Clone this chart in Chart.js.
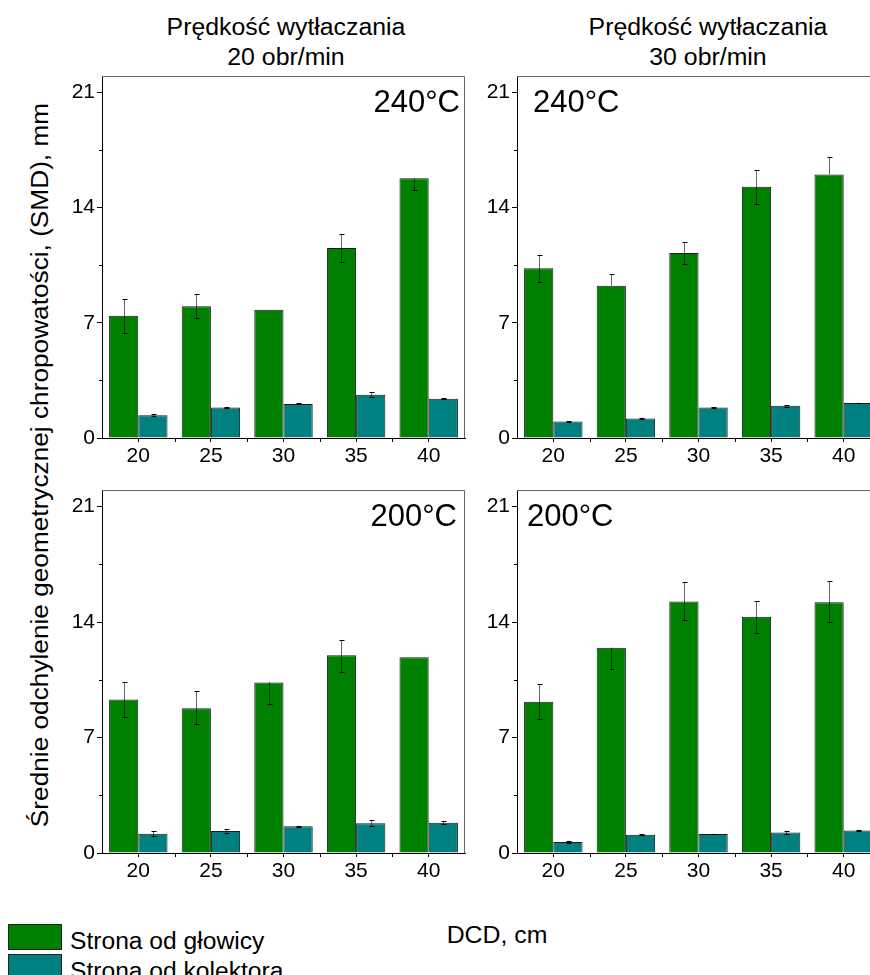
<!doctype html>
<html>
<head>
<meta charset="UTF-8">
<title>SMD - Prędkość wytłaczania</title>
<script src="https://cdn.jsdelivr.net/npm/chart.js@4/dist/chart.umd.min.js"></script>
<style>
html, body { margin:0; padding:0; background:#fff; width:870px; height:975px; overflow:hidden; }
body { position:relative; font-family:'Liberation Sans', Arial, sans-serif; color:#000; }
canvas { position:absolute; }
.txt { position:absolute; font-size:23px; line-height:30px; white-space:nowrap; text-align:center; transform:scaleX(1.08); }
.sw { position:absolute; left:8px; width:54px; height:26px; border:1px solid #222; box-sizing:border-box; }
.lg { position:absolute; left:70px; font-size:23px; line-height:30px; white-space:nowrap; transform:scaleX(1.07); transform-origin:left center; }
</style>
</head>
<body>
<div class="txt" style="left:136px; top:12px; width:300px;">Prędkość wytłaczania<br>20 obr/min</div>
<div class="txt" style="left:558px; top:12px; width:300px;">Prędkość wytłaczania<br>30 obr/min</div>
<div class="txt" style="left:-360px; top:450px; width:800px; transform:rotate(-90deg) scaleX(1.14);">Średnie odchylenie geometrycznej chropowatości, (SMD), mm</div>
<div class="txt" style="left:397px; top:920px; width:200px;">DCD, cm</div>

<div class="sw" style="top:924px; background:#008000;"></div>
<div class="sw" style="top:954px; background:#008080;"></div>
<div class="lg" style="top:926px;">Strona od głowicy</div>
<div class="lg" style="top:956px;">Strona od kolektora</div>

<canvas id="p1" width="439" height="427" style="left:32px; top:56px;"></canvas>
<canvas id="p2" width="439" height="427" style="left:447px; top:56px;"></canvas>
<canvas id="p3" width="439" height="428" style="left:32px; top:470px;"></canvas>
<canvas id="p4" width="439" height="428" style="left:447px; top:470px;"></canvas>

<script>
// DCD, cm
var dcd = ['20', '25', '30', '35', '40'];
var yTicks = [0, 7, 14, 21];
var yMinor = [3.5, 10.5, 17.5];
var seriesNames = ['Strona od głowicy', 'Strona od kolektora'];

// 20 obr/min, 240°C
var glowica_20_240 = [7.43, 8.0, 7.8, 11.54, 15.78];
var glowica_20_240_errUp = [1.0, 0.75, 0, 0.85, 0];
var glowica_20_240_errDn = [1.05, 0.7, 0, 0.87, 0.71];
var kolektor_20_240 = [1.38, 1.86, 2.07, 2.63, 2.39];
var kolektor_20_240_err = [0.06, 0.03, 0.03, 0.15, 0.03];

// 30 obr/min, 240°C
var glowica_30_240 = [10.31, 9.25, 11.24, 15.27, 16.02];
var glowica_30_240_errUp = [0.83, 0.71, 0.65, 1.03, 1.07];
var glowica_30_240_errDn = [0.85, 0, 0.67, 1.05, 0];
var kolektor_30_240 = [1.01, 1.19, 1.86, 1.96, 2.13];
var kolektor_30_240_err = [0.02, 0.05, 0.02, 0.05, 0.02];

// 20 obr/min, 200°C
var glowica_20_200 = [9.31, 8.78, 10.34, 11.98, 11.86];
var glowica_20_200_errUp = [1.07, 1.01, 0, 0.93, 0];
var glowica_20_200_errDn = [1.06, 0.99, 1.28, 1.03, 0];
var kolektor_20_200 = [1.17, 1.34, 1.62, 1.80, 1.84];
var kolektor_20_200_err = [0.15, 0.1, 0.03, 0.18, 0.08];

// 30 obr/min, 200°C
var glowica_30_200 = [9.16, 12.44, 15.25, 14.32, 15.19];
var glowica_30_200_errUp = [1.06, 0, 1.16, 0.95, 1.28];
var glowica_30_200_errDn = [1.05, 1.29, 1.15, 1.01, 1.21];
var kolektor_30_200 = [0.67, 1.11, 1.15, 1.25, 1.36];
var kolektor_30_200_err = [0.07, 0.03, 0.02, 0.1, 0.05];

Chart.defaults.font.family = "'Liberation Sans', Arial, sans-serif";
Chart.defaults.color = '#000';

// error bars, drawn on top of each bar
var errorBars = {
	id: 'errorBars',
	afterDatasetsDraw: function(chart) {
		var ctx = chart.ctx, y = chart.scales.y;
		ctx.save();
		chart.data.datasets.forEach(function(ds, i) {
			chart.getDatasetMeta(i).data.forEach(function(bar, j) {
				var v = ds.data[j];
				var up = ds.errUp[j], dn = ds.errDn[j];
				if (!up && !dn) return;
				var px = Math.round(bar.x) + 0.5;
				var top = y.getPixelForValue(v + up);
				var bot = y.getPixelForValue(v - dn);
				ctx.strokeStyle = 'rgba(0,0,0,0.6)';
				ctx.lineWidth = 1;
				ctx.beginPath();
				ctx.moveTo(px, top); ctx.lineTo(px, bot);
				ctx.stroke();
				ctx.strokeStyle = '#000';
				ctx.beginPath();
				if (up) { ctx.moveTo(px - 2, Math.round(top) + 0.5); ctx.lineTo(px + 3, Math.round(top) + 0.5); }
				if (dn) { ctx.moveTo(px - 2, Math.round(bot) + 0.5); ctx.lineTo(px + 3, Math.round(bot) + 0.5); }
				ctx.stroke();
			});
		});
		ctx.restore();
	}
};

// frame, minor ticks and temperature label
var panelDeco = {
	id: 'panelDeco',
	afterDraw: function(chart, args, opts) {
		var ctx = chart.ctx, a = chart.chartArea, x = chart.scales.x, y = chart.scales.y;
		ctx.save();
		ctx.strokeStyle = '#666';
		ctx.lineWidth = 1;
		ctx.beginPath();
		ctx.moveTo(a.left, a.top + 0.5); ctx.lineTo(a.right - 0.5, a.top + 0.5); ctx.lineTo(a.right - 0.5, a.bottom);
		ctx.stroke();
		ctx.strokeStyle = '#000';
		ctx.beginPath();
		yMinor.forEach(function(v) {
			var py = Math.round(y.getPixelForValue(v)) + 0.5;
			ctx.moveTo(a.left - 3, py); ctx.lineTo(a.left, py);
		});
		for (var i = 0; i < dcd.length - 1; i++) {
			var px = Math.round((x.getPixelForTick(i) + x.getPixelForTick(i + 1)) / 2) + 0.5;
			ctx.moveTo(px, a.bottom); ctx.lineTo(px, a.bottom + 4);
		}
		ctx.stroke();
		ctx.font = "31px 'Liberation Sans', Arial, sans-serif";
		ctx.fillStyle = '#000';
		ctx.textBaseline = 'alphabetic';
		if (opts.side === 'right') {
			ctx.textAlign = 'right';
			ctx.fillText(opts.temp, a.right + opts.dx, a.top + 36);
		} else {
			ctx.textAlign = 'left';
			ctx.fillText(opts.temp, a.left + opts.dx, a.top + 36);
		}
		ctx.restore();
	}
};

function panel(id, g, gUp, gDn, t, tErr, temp, side, dx) {
	return new Chart(document.getElementById(id), {
		type: 'bar',
		data: {
			labels: dcd,
			datasets: [
				{ label: seriesNames[0], data: g, errUp: gUp, errDn: gDn,
				  backgroundColor: '#008000', borderColor: '#1a1a1a', borderWidth: 1 },
				{ label: seriesNames[1], data: t, errUp: tErr, errDn: tErr,
				  backgroundColor: '#008080', borderColor: '#1a1a1a', borderWidth: 1 }
			]
		},
		options: {
			responsive: false,
			animation: false,
			devicePixelRatio: 1,
			layout: { padding: { top: 20, right: 6, left: 0, bottom: 0 } },
			datasets: { bar: { categoryPercentage: 0.805, barPercentage: 1.0 } },
			plugins: {
				legend: { display: false },
				tooltip: { enabled: false },
				panelDeco: { temp: temp, side: side, dx: dx }
			},
			scales: {
				x: {
					grid: { drawOnChartArea: false, offset: false, tickLength: 4, color: '#000' },
					border: { color: '#000' },
					ticks: { font: { size: 21 }, color: '#000', padding: 2, maxRotation: 0 },
					afterFit: function(s) { s.height = 45; }
				},
				y: {
					min: 0, max: 22,
					afterBuildTicks: function(s) { s.ticks = yTicks.map(function(v) { return { value: v }; }); },
					grid: { drawOnChartArea: false, tickLength: 5, color: '#000' },
					border: { color: '#000' },
					ticks: { font: { size: 21 }, color: '#000', padding: 2 },
					afterFit: function(s) { s.width = 70; }
				}
			}
		},
		plugins: [errorBars, panelDeco]
	});
}

panel('p1', glowica_20_240, glowica_20_240_errUp, glowica_20_240_errDn, kolektor_20_240, kolektor_20_240_err, '240°C', 'right', -5);
panel('p2', glowica_30_240, glowica_30_240_errUp, glowica_30_240_errDn, kolektor_30_240, kolektor_30_240_err, '240°C', 'left', 16);
panel('p3', glowica_20_200, glowica_20_200_errUp, glowica_20_200_errDn, kolektor_20_200, kolektor_20_200_err, '200°C', 'right', -8);
panel('p4', glowica_30_200, glowica_30_200_errUp, glowica_30_200_errDn, kolektor_30_200, kolektor_30_200_err, '200°C', 'left', 10);
</script>
</body>
</html>
